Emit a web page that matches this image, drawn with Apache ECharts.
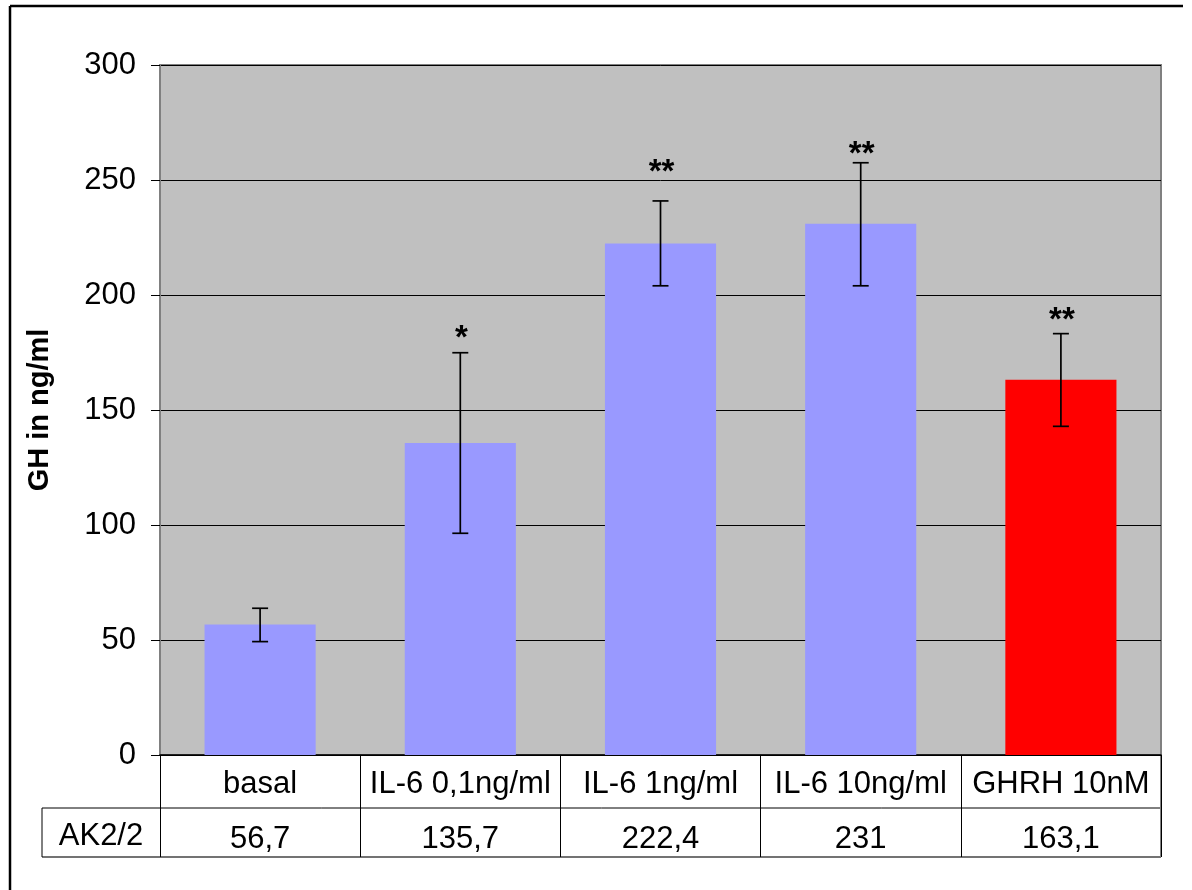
<!DOCTYPE html>
<html>
<head>
<meta charset="utf-8">
<script src="https://cdn.jsdelivr.net/npm/echarts@6/dist/echarts.min.js"></script>
<style>
  html, body { margin: 0; padding: 0; background: #ffffff; }
  #chart { width: 1192px; height: 890px; }
</style>
</head>
<body>
<div id="chart"></div>
<script>
// GH secretion (ng/ml) under different stimuli
const categories = ['basal', 'IL-6 0,1ng/ml', 'IL-6 1ng/ml', 'IL-6 10ng/ml', 'GHRH 10nM'];
const ghValues = [56.7, 135.7, 222.4, 231, 163.1];
const errLow = [49.3, 96.4, 204.0, 204.0, 142.9];
const errHigh = [63.8, 174.9, 240.9, 257.5, 183.2];
const sigMarks = ['', '*', '**', '**', '**'];
const sigLevel = [null, 184.3, 256.5, 264.5, 192.2];
const rowLabel = 'AK2/2';
const yTicks = { min: 0, max: 300, interval: 50 };

const FONT = 'Liberation Sans, Arial, sans-serif';
const FS = 31;
const BLUE = '#9999FF';
const RED = '#FF0000';

const G = { left: 160, top: 65, right: 31, bottom: 135 };
const W = 1192, H = 890;
const plotRight = W - G.right;
const plotBottom = H - G.bottom;

const fmt = v => String(v).replace('.', ',');

const chart = echarts.init(document.getElementById('chart'), null, { renderer: 'canvas' });

chart.setOption({
  animation: false,
  backgroundColor: '#ffffff',
  textStyle: { fontFamily: FONT },
  grid: {
    left: G.left, top: G.top, right: G.right, bottom: G.bottom,
    show: true, backgroundColor: '#C0C0C0', borderColor: '#808080', borderWidth: 2
  },
  xAxis: [
    {
      type: 'category',
      data: categories,
      position: 'bottom',
      axisLine: { show: true, lineStyle: { color: '#000', width: 1.5 } },
      axisTick: { show: true, interval: 0, length: 102, lineStyle: { color: '#000', width: 1 } },
      axisLabel: { interval: 0, color: '#000', fontSize: FS, fontFamily: FONT, margin: 14 },
      splitLine: { show: false }
    },
    {
      type: 'category',
      data: ghValues.map(fmt),
      position: 'bottom',
      offset: 55,
      axisLine: { show: false },
      axisTick: { show: false },
      axisLabel: { interval: 0, color: '#000', fontSize: FS, fontFamily: FONT, margin: 14 },
      splitLine: { show: false }
    }
  ],
  yAxis: {
    type: 'value',
    min: yTicks.min, max: yTicks.max, interval: yTicks.interval,
    name: 'GH in ng/ml',
    nameLocation: 'middle',
    nameRotate: 90,
    nameGap: 106,
    nameTextStyle: { color: '#000', fontSize: 29, fontWeight: 'bold', fontFamily: FONT },
    axisLine: { show: true, lineStyle: { color: '#808080', width: 2 } },
    axisTick: { show: true, length: 9, lineStyle: { color: '#000', width: 1 } },
    axisLabel: { color: '#000', fontSize: FS, fontFamily: FONT, margin: 24 },
    splitLine: { show: true, lineStyle: { color: '#000', width: 1 } }
  },
  series: [
    {
      type: 'bar',
      barWidth: '55.5%',
      data: ghValues.map((v, i) => ({
        value: v,
        itemStyle: { color: i === ghValues.length - 1 ? RED : BLUE }
      })),
      z: 2
    },
    {
      type: 'custom',
      z: 5,
      data: categories.map((c, i) => [i, errLow[i], errHigh[i], sigLevel[i] == null ? 0 : sigLevel[i]]),
      renderItem: function (params, api) {
        const i = api.value(0);
        const lo = api.coord([i, api.value(1)]);
        const hi = api.coord([i, api.value(2)]);
        const x = hi[0];
        const half = 8;
        const st = { stroke: '#000', lineWidth: 1.7 };
        const children = [
          { type: 'line', shape: { x1: x, y1: hi[1], x2: x, y2: lo[1] }, style: st },
          { type: 'line', shape: { x1: x - half, y1: hi[1], x2: x + half, y2: hi[1] }, style: st },
          { type: 'line', shape: { x1: x - half, y1: lo[1], x2: x + half, y2: lo[1] }, style: st }
        ];
        const mark = sigMarks[params.dataIndex];
        if (mark) {
          const s = api.coord([i, api.value(3)]);
          children.push({
            type: 'text',
            style: {
              x: x + 1, y: s[1] + 8,
              text: mark,
              fill: '#000',
              font: 'bold 33px ' + FONT,
              textAlign: 'center',
              textVerticalAlign: 'middle'
            }
          });
        }
        return { type: 'group', children: children };
      }
    }
  ],
  graphic: [
    // outer frame (top and left edges)
    { type: 'line', shape: { x1: 10, y1: 6, x2: 1183, y2: 6 }, style: { stroke: '#000', lineWidth: 2.5 } },
    { type: 'line', shape: { x1: 10, y1: 6, x2: 10, y2: H }, style: { stroke: '#000', lineWidth: 2.5 } },
    // data table rules
    { type: 'line', shape: { x1: 42, y1: 808, x2: plotRight, y2: 808 }, style: { stroke: '#000', lineWidth: 1 } },
    { type: 'line', shape: { x1: 42, y1: 857, x2: plotRight, y2: 857 }, style: { stroke: '#444', lineWidth: 1.5 } },
    { type: 'line', shape: { x1: 42, y1: 808, x2: 42, y2: 857 }, style: { stroke: '#000', lineWidth: 1 } },
    { type: 'line', shape: { x1: plotRight, y1: plotBottom, x2: plotRight, y2: 857 }, style: { stroke: '#808080', lineWidth: 2 } },
    {
      type: 'text',
      style: {
        x: 101, y: 836, text: rowLabel, fill: '#000',
        font: FS + 'px ' + FONT, textAlign: 'center', textVerticalAlign: 'middle'
      }
    }
  ]
});
</script>
</body>
</html>
